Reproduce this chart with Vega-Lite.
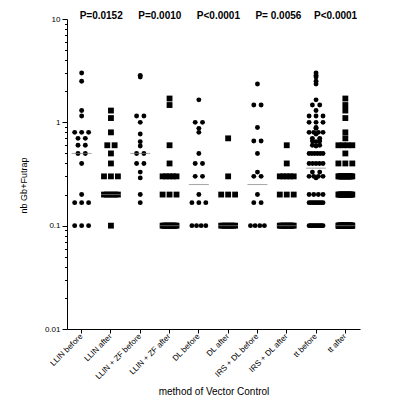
{
"$schema": "https://vega.github.io/schema/vega-lite/v6.json",
"autosize": {"type": "none"},
"width": 293, "height": 310,
"padding": {"left": 67, "top": 19, "right": 38, "bottom": 74},
"config": {"view": {"stroke": null}, "font": "Liberation Sans",
  "axis": {"domainColor": "black", "tickColor": "black", "labelColor": "black", "titleColor": "black", "labelFont": "Liberation Sans", "titleFont": "Liberation Sans", "grid": false, "titleFontWeight": "normal"}},
"datasets": {
"medians": [{"g":"LLIN before","m":0.5},{"g":"LLIN after","m":0.2},{"g":"LLIN + ZF before","m":0.5},{"g":"LLIN + ZF after","m":0.1},{"g":"DL before","m":0.25},{"g":"DL after","m":0.1},{"g":"IRS + DL before","m":0.25},{"g":"IRS + DL after","m":0.1},{"g":"tt before","m":0.36},{"g":"tt after","m":0.1}],
"pvals": [{"g":"LLIN before","t":"P=0.0152"},{"g":"LLIN + ZF before","t":"P=0.0010"},{"g":"DL before","t":"P<0.0001"},{"g":"IRS + DL before","t":"P= 0.0056"},{"g":"tt before","t":"P<0.0001"}],
"pts": [
{"g":"LLIN before","v":3},{"g":"LLIN before","v":2.5},{"g":"LLIN before","v":1.3},{"g":"LLIN before","v":1.15},{"g":"LLIN before","v":0.8},{"g":"LLIN before","v":0.8},{"g":"LLIN before","v":0.8},{"g":"LLIN before","v":0.7},{"g":"LLIN before","v":0.7},{"g":"LLIN before","v":0.6},{"g":"LLIN before","v":0.6},{"g":"LLIN before","v":0.5},{"g":"LLIN before","v":0.5},{"g":"LLIN before","v":0.4},{"g":"LLIN before","v":0.2},{"g":"LLIN before","v":0.167},{"g":"LLIN before","v":0.167},{"g":"LLIN before","v":0.167},{"g":"LLIN before","v":0.1},{"g":"LLIN before","v":0.1},{"g":"LLIN before","v":0.1},
{"g":"LLIN after","v":1.3},{"g":"LLIN after","v":1.1},{"g":"LLIN after","v":0.8},{"g":"LLIN after","v":0.6},{"g":"LLIN after","v":0.6},{"g":"LLIN after","v":0.5},{"g":"LLIN after","v":0.4},{"g":"LLIN after","v":0.3},{"g":"LLIN after","v":0.3},{"g":"LLIN after","v":0.3},{"g":"LLIN after","v":0.2},{"g":"LLIN after","v":0.2},{"g":"LLIN after","v":0.2},{"g":"LLIN after","v":0.2},{"g":"LLIN after","v":0.2},{"g":"LLIN after","v":0.2},{"g":"LLIN after","v":0.1},
{"g":"LLIN + ZF before","v":2.85},{"g":"LLIN + ZF before","v":2.75},{"g":"LLIN + ZF before","v":1.15},{"g":"LLIN + ZF before","v":1.15},{"g":"LLIN + ZF before","v":1.0},{"g":"LLIN + ZF before","v":0.77},{"g":"LLIN + ZF before","v":0.65},{"g":"LLIN + ZF before","v":0.59},{"g":"LLIN + ZF before","v":0.5},{"g":"LLIN + ZF before","v":0.5},{"g":"LLIN + ZF before","v":0.4},{"g":"LLIN + ZF before","v":0.4},{"g":"LLIN + ZF before","v":0.33},{"g":"LLIN + ZF before","v":0.29},{"g":"LLIN + ZF before","v":0.2},{"g":"LLIN + ZF before","v":0.167},
{"g":"LLIN + ZF after","v":1.7},{"g":"LLIN + ZF after","v":1.47},{"g":"LLIN + ZF after","v":0.6},{"g":"LLIN + ZF after","v":0.4},{"g":"LLIN + ZF after","v":0.3},{"g":"LLIN + ZF after","v":0.3},{"g":"LLIN + ZF after","v":0.3},{"g":"LLIN + ZF after","v":0.3},{"g":"LLIN + ZF after","v":0.3},{"g":"LLIN + ZF after","v":0.2},{"g":"LLIN + ZF after","v":0.2},{"g":"LLIN + ZF after","v":0.2},{"g":"LLIN + ZF after","v":0.1},{"g":"LLIN + ZF after","v":0.1},{"g":"LLIN + ZF after","v":0.1},{"g":"LLIN + ZF after","v":0.1},{"g":"LLIN + ZF after","v":0.1},{"g":"LLIN + ZF after","v":0.1},{"g":"LLIN + ZF after","v":0.1},{"g":"LLIN + ZF after","v":0.1},{"g":"LLIN + ZF after","v":0.1},{"g":"LLIN + ZF after","v":0.1},{"g":"LLIN + ZF after","v":0.1},{"g":"LLIN + ZF after","v":0.1},
{"g":"DL before","v":1.65},{"g":"DL before","v":1.0},{"g":"DL before","v":1.0},{"g":"DL before","v":0.875},{"g":"DL before","v":0.8},{"g":"DL before","v":0.5},{"g":"DL before","v":0.4},{"g":"DL before","v":0.4},{"g":"DL before","v":0.3},{"g":"DL before","v":0.3},{"g":"DL before","v":0.2},{"g":"DL before","v":0.167},{"g":"DL before","v":0.167},{"g":"DL before","v":0.167},{"g":"DL before","v":0.1},{"g":"DL before","v":0.1},{"g":"DL before","v":0.1},{"g":"DL before","v":0.1},
{"g":"DL after","v":0.7},{"g":"DL after","v":0.3},{"g":"DL after","v":0.2},{"g":"DL after","v":0.2},{"g":"DL after","v":0.2},{"g":"DL after","v":0.1},{"g":"DL after","v":0.1},{"g":"DL after","v":0.1},{"g":"DL after","v":0.1},{"g":"DL after","v":0.1},{"g":"DL after","v":0.1},{"g":"DL after","v":0.1},{"g":"DL after","v":0.1},
{"g":"IRS + DL before","v":2.35},{"g":"IRS + DL before","v":1.47},{"g":"IRS + DL before","v":1.47},{"g":"IRS + DL before","v":0.89},{"g":"IRS + DL before","v":0.66},{"g":"IRS + DL before","v":0.66},{"g":"IRS + DL before","v":0.5},{"g":"IRS + DL before","v":0.33},{"g":"IRS + DL before","v":0.3},{"g":"IRS + DL before","v":0.3},{"g":"IRS + DL before","v":0.2},{"g":"IRS + DL before","v":0.167},{"g":"IRS + DL before","v":0.167},{"g":"IRS + DL before","v":0.1},{"g":"IRS + DL before","v":0.1},{"g":"IRS + DL before","v":0.1},{"g":"IRS + DL before","v":0.1},
{"g":"IRS + DL after","v":0.6},{"g":"IRS + DL after","v":0.4},{"g":"IRS + DL after","v":0.3},{"g":"IRS + DL after","v":0.3},{"g":"IRS + DL after","v":0.3},{"g":"IRS + DL after","v":0.3},{"g":"IRS + DL after","v":0.3},{"g":"IRS + DL after","v":0.2},{"g":"IRS + DL after","v":0.2},{"g":"IRS + DL after","v":0.2},{"g":"IRS + DL after","v":0.1},{"g":"IRS + DL after","v":0.1},{"g":"IRS + DL after","v":0.1},{"g":"IRS + DL after","v":0.1},{"g":"IRS + DL after","v":0.1},{"g":"IRS + DL after","v":0.1},{"g":"IRS + DL after","v":0.1},{"g":"IRS + DL after","v":0.1},{"g":"IRS + DL after","v":0.1},{"g":"IRS + DL after","v":0.1},{"g":"IRS + DL after","v":0.1},
{"g":"tt before","v":3},{"g":"tt before","v":2.5},{"g":"tt before","v":1.3},{"g":"tt before","v":1.15},{"g":"tt before","v":0.8},{"g":"tt before","v":0.8},{"g":"tt before","v":0.8},{"g":"tt before","v":0.7},{"g":"tt before","v":0.7},{"g":"tt before","v":0.6},{"g":"tt before","v":0.6},{"g":"tt before","v":0.5},{"g":"tt before","v":0.5},{"g":"tt before","v":0.4},{"g":"tt before","v":0.2},{"g":"tt before","v":0.167},{"g":"tt before","v":0.167},{"g":"tt before","v":0.167},{"g":"tt before","v":0.1},{"g":"tt before","v":0.1},{"g":"tt before","v":0.1},
{"g":"tt before","v":2.85},{"g":"tt before","v":2.75},{"g":"tt before","v":1.15},{"g":"tt before","v":1.15},{"g":"tt before","v":1.0},{"g":"tt before","v":0.77},{"g":"tt before","v":0.65},{"g":"tt before","v":0.59},{"g":"tt before","v":0.5},{"g":"tt before","v":0.5},{"g":"tt before","v":0.4},{"g":"tt before","v":0.4},{"g":"tt before","v":0.33},{"g":"tt before","v":0.29},{"g":"tt before","v":0.2},{"g":"tt before","v":0.167},
{"g":"tt before","v":1.65},{"g":"tt before","v":1.0},{"g":"tt before","v":1.0},{"g":"tt before","v":0.875},{"g":"tt before","v":0.8},{"g":"tt before","v":0.5},{"g":"tt before","v":0.4},{"g":"tt before","v":0.4},{"g":"tt before","v":0.3},{"g":"tt before","v":0.3},{"g":"tt before","v":0.2},{"g":"tt before","v":0.167},{"g":"tt before","v":0.167},{"g":"tt before","v":0.167},{"g":"tt before","v":0.1},{"g":"tt before","v":0.1},{"g":"tt before","v":0.1},{"g":"tt before","v":0.1},
{"g":"tt before","v":2.35},{"g":"tt before","v":1.47},{"g":"tt before","v":1.47},{"g":"tt before","v":0.89},{"g":"tt before","v":0.66},{"g":"tt before","v":0.66},{"g":"tt before","v":0.5},{"g":"tt before","v":0.33},{"g":"tt before","v":0.3},{"g":"tt before","v":0.3},{"g":"tt before","v":0.2},{"g":"tt before","v":0.167},{"g":"tt before","v":0.167},{"g":"tt before","v":0.1},{"g":"tt before","v":0.1},{"g":"tt before","v":0.1},{"g":"tt before","v":0.1},
{"g":"tt after","v":1.3},{"g":"tt after","v":1.1},{"g":"tt after","v":0.8},{"g":"tt after","v":0.6},{"g":"tt after","v":0.6},{"g":"tt after","v":0.5},{"g":"tt after","v":0.4},{"g":"tt after","v":0.3},{"g":"tt after","v":0.3},{"g":"tt after","v":0.3},{"g":"tt after","v":0.2},{"g":"tt after","v":0.2},{"g":"tt after","v":0.2},{"g":"tt after","v":0.2},{"g":"tt after","v":0.2},{"g":"tt after","v":0.2},{"g":"tt after","v":0.1},
{"g":"tt after","v":1.7},{"g":"tt after","v":1.47},{"g":"tt after","v":0.6},{"g":"tt after","v":0.4},{"g":"tt after","v":0.3},{"g":"tt after","v":0.3},{"g":"tt after","v":0.3},{"g":"tt after","v":0.3},{"g":"tt after","v":0.3},{"g":"tt after","v":0.2},{"g":"tt after","v":0.2},{"g":"tt after","v":0.2},{"g":"tt after","v":0.1},{"g":"tt after","v":0.1},{"g":"tt after","v":0.1},{"g":"tt after","v":0.1},{"g":"tt after","v":0.1},{"g":"tt after","v":0.1},{"g":"tt after","v":0.1},{"g":"tt after","v":0.1},{"g":"tt after","v":0.1},{"g":"tt after","v":0.1},{"g":"tt after","v":0.1},{"g":"tt after","v":0.1},
{"g":"tt after","v":0.7},{"g":"tt after","v":0.3},{"g":"tt after","v":0.2},{"g":"tt after","v":0.2},{"g":"tt after","v":0.2},{"g":"tt after","v":0.1},{"g":"tt after","v":0.1},{"g":"tt after","v":0.1},{"g":"tt after","v":0.1},{"g":"tt after","v":0.1},{"g":"tt after","v":0.1},{"g":"tt after","v":0.1},{"g":"tt after","v":0.1},
{"g":"tt after","v":0.6},{"g":"tt after","v":0.4},{"g":"tt after","v":0.3},{"g":"tt after","v":0.3},{"g":"tt after","v":0.3},{"g":"tt after","v":0.3},{"g":"tt after","v":0.3},{"g":"tt after","v":0.2},{"g":"tt after","v":0.2},{"g":"tt after","v":0.2},{"g":"tt after","v":0.1},{"g":"tt after","v":0.1},{"g":"tt after","v":0.1},{"g":"tt after","v":0.1},{"g":"tt after","v":0.1},{"g":"tt after","v":0.1},{"g":"tt after","v":0.1},{"g":"tt after","v":0.1},{"g":"tt after","v":0.1},{"g":"tt after","v":0.1},{"g":"tt after","v":0.1}
]
},
"layer": [
{
"data": {"name": "pts"},
"transform": [
  {"window": [{"op": "row_number", "as": "r"}, {"op": "count", "as": "n"}], "groupby": ["g", "v"], "frame": [null, null]},
  {"calculate": "(datum.r - (datum.n + 1) / 2) * min(1, 1.9 / max(datum.n - 1, 1))", "as": "off"},
  {"calculate": "indexof(datum.g, 'before') >= 0 ? 'before' : 'after'", "as": "phase"}
],
"mark": {"type": "point", "filled": true, "opacity": 1, "color": "black", "strokeWidth": 0},
"encoding": {
  "x": {"field": "g", "type": "nominal", "title": "method of Vector Control",
    "scale": {"domain": ["LLIN before","LLIN after","LLIN + ZF before","LLIN + ZF after","DL before","DL after","IRS + DL before","IRS + DL after","tt before","tt after"], "paddingInner": 0, "paddingOuter": 0},
    "axis": {"labelAngle": -45, "labelAlign": "right", "labelBaseline": "middle", "labelFontSize": 8, "labelPadding": 2, "labelColor": "black", "tickColor": "black", "domainColor": "black", "tickSize": 4, "titleFontSize": 10, "titleFontWeight": "normal", "titleColor": "black", "titleY": 62, "titleBaseline": "middle", "domainWidth": 1}},
  "xOffset": {"field": "off", "type": "quantitative", "scale": {"domain": [-2, 2]}},
  "y": {"field": "v", "type": "quantitative", "title": "nb Gb+Futrap",
    "scale": {"type": "log", "domain": [0.01, 10], "nice": false},
    "axis": {"values": [0.01,0.02,0.03,0.04,0.05,0.06,0.07,0.08,0.09,0.1,0.2,0.3,0.4,0.5,0.6,0.7,0.8,0.9,1,2,3,4,5,6,7,8,9,10],
      "labelExpr": "datum.value == 0.01 ? '0.01' : datum.value == 0.1 ? '0.1' : datum.value == 1 ? '1' : datum.value == 10 ? '10' : ''",
      "tickSize": {"condition": {"test": "datum.value == 0.01 || datum.value == 0.1 || datum.value == 1 || datum.value == 10", "value": 5}, "value": 2.5},
      "labelFontSize": 8, "labelPadding": 2, "labelColor": "black", "tickColor": "black", "domainColor": "black", "titleColor": "black", "titleFontSize": 9, "titleFontWeight": "normal", "titleX": -44, "titleY": 166, "titleBaseline": "middle", "titleAngle": -90}},
  "shape": {"field": "phase", "type": "nominal", "scale": {"domain": ["before", "after"], "range": ["circle", "square"]}, "legend": null},
  "size": {"field": "phase", "type": "nominal", "scale": {"domain": ["before", "after"], "range": [24, 34]}, "legend": null}
}
},
{
"data": {"name": "medians"},
"mark": {"type": "tick", "size": 20, "thickness": 1, "color": "#808080", "orient": "horizontal"},
"encoding": {
  "x": {"field": "g", "type": "nominal", "title": "method of Vector Control"},
  "y": {"field": "m", "type": "quantitative", "title": "nb Gb+Futrap"}
}
},
{
"data": {"name": "pvals"},
"mark": {"type": "text", "align": "left", "baseline": "middle", "dx": -2, "dy": -3, "fontSize": 10, "fontWeight": "bold", "font": "Liberation Sans", "color": "black"},
"encoding": {
  "x": {"field": "g", "type": "nominal", "title": "method of Vector Control"},
  "y": {"datum": 10, "type": "quantitative"},
  "text": {"field": "t"}
}
}
]
}
